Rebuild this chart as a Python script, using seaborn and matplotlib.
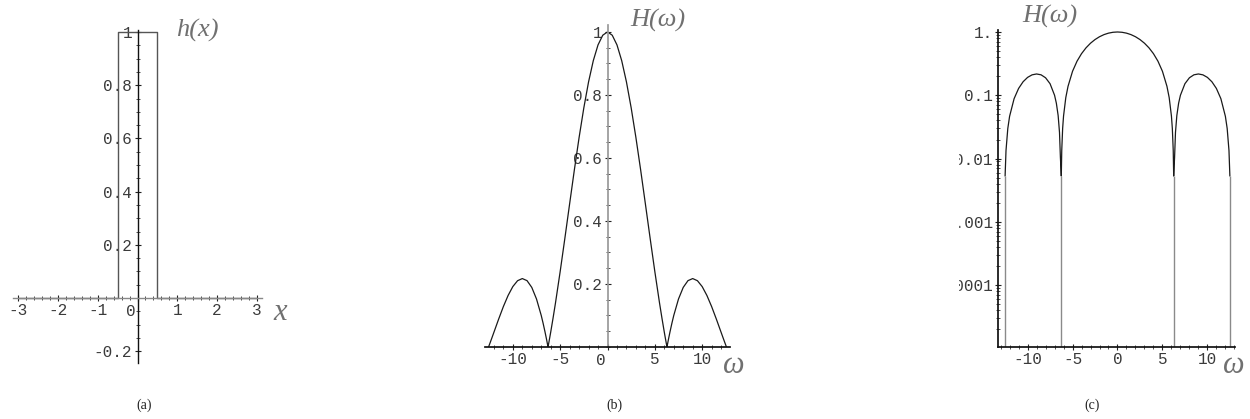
import numpy as np
import matplotlib
matplotlib.use("Agg")
import matplotlib.pyplot as plt
import matplotlib.ticker as mticker
from matplotlib.patches import Rectangle
import seaborn as sns

# box function h(x)
box_x = [-3, -0.5, -0.5, 0.5, 0.5, 3]
box_y = [0, 0, 1, 1, 0, 0]

# |H(omega)| (b) and (c)
omega = [-12.566, -12.5, -12.4, -12.2, -12.0, -11.5, -11.0, -10.5, -10.0, -9.5,
         -9.0, -8.5, -8.0, -7.5, -7.0, -6.8, -6.6, -6.45, -6.35, -6.283,
         -6.25, -6.2, -6.1, -6.0, -5.75, -5.5, -5.0, -4.5, -4.0, -3.5,
         -3.0, -2.5, -2.0, -1.5, -1.0, -0.5, 0.0,
         0.5, 1.0, 1.5, 2.0, 2.5, 3.0, 3.5, 4.0, 4.5, 5.0,
         5.5, 5.75, 6.0, 6.1, 6.2, 6.25, 6.283, 6.35, 6.45, 6.6,
         6.8, 7.0, 7.5, 8.0, 8.5, 9.0, 9.5, 10.0, 10.5, 11.0,
         11.5, 12.0, 12.2, 12.4, 12.5, 12.566]
H = [0, 0.0053, 0.0134, 0.0299, 0.0466, 0.0884, 0.1283, 0.1636, 0.1918, 0.2104,
     0.2172, 0.2106, 0.1892, 0.1524, 0.1002, 0.0751, 0.0478, 0.0259, 0.0105, 0,
     0.0053, 0.0134, 0.0300, 0.0470, 0.0919, 0.1388, 0.2394, 0.3458, 0.4546, 0.5623,
     0.6650, 0.7592, 0.8415, 0.9089, 0.9589, 0.9896, 1.0,
     0.9896, 0.9589, 0.9089, 0.8415, 0.7592, 0.6650, 0.5623, 0.4546, 0.3458, 0.2394,
     0.1388, 0.0919, 0.0470, 0.0300, 0.0134, 0.0053, 0, 0.0105, 0.0259, 0.0478,
     0.0751, 0.1002, 0.1524, 0.1892, 0.2106, 0.2172, 0.2104, 0.1918, 0.1636, 0.1283,
     0.0884, 0.0466, 0.0299, 0.0134, 0.0053, 0]

a_yticks = [-0.2, 0.2, 0.4, 0.6, 0.8, 1]
a_ylabels = ["-0.2", "0.2", "0.4", "0.6", "0.8", "1"]
a_xticks = [-3, -2, -1, 0, 1, 2, 3]
b_xticks = [-10, -5, 0, 5, 10]
b_yticks = [0.2, 0.4, 0.6, 0.8, 1]
b_ylabels = ["0.2", "0.4", "0.6", "0.8", "1"]
c_yticks = [1, 0.1, 0.01, 0.001, 0.0001]
c_ylabels = ["1.", "0.1", "0.01", "0.001", "0.0001"]
captions = ["(a)", "(b)", "(c)"]

sns.set_theme(style="ticks")
plt.rcParams["font.family"] = ["Liberation Mono", "DejaVu Sans"]

W, Hpx = 1250, 419
fig = plt.figure(figsize=(W / 100, Hpx / 100), dpi=100)
TICK_FS = 11.5
TICK_COL = "#3a3a3a"


def box(l, t, r, b):
    return [l / W, 1 - b / Hpx, (r - l) / W, (b - t) / Hpx]


def style_ticks(ax):
    ax.tick_params(which="both", bottom=True, left=True, top=False, right=False)
    ax.tick_params(which="major", direction="inout", length=4.5, width=0.8,
                   labelsize=TICK_FS, labelcolor=TICK_COL, color="#222222", pad=1.5)
    ax.tick_params(which="minor", direction="inout", length=2.2, width=0.6, color="#333333")


def zero_label(ax):
    # the "0" on crossing axes sits just left of the vertical axis
    ax.annotate("0", xy=(0, 0), xycoords="data", xytext=(-1, -4.5), textcoords="offset points",
                ha="right", va="top", fontsize=TICK_FS, color=TICK_COL)


def xlabels(ticks):
    return ["" if t == 0 else str(t) for t in ticks]


# ---- (a) ----
ax = fig.add_axes(box(13, 30, 262, 363))
sns.lineplot(x=box_x, y=box_y, ax=ax, sort=False, estimator=None, color="#555555", lw=1)
ax.set_xlim(-3.13, 3.13)
ax.set_ylim(-0.244, 1.0075)
for s in ["top", "right"]:
    ax.spines[s].set_visible(False)
ax.spines["left"].set_position(("data", 0))
ax.spines["bottom"].set_position(("data", 0))
ax.spines["left"].set_color("#111111")
ax.spines["bottom"].set_color("#888888")
ax.spines["left"].set_linewidth(1)
ax.spines["bottom"].set_linewidth(1)
ax.set_xticks(a_xticks)
ax.set_xticklabels(xlabels(a_xticks))
ax.set_yticks(a_yticks)
ax.set_yticklabels(a_ylabels)
ax.xaxis.set_minor_locator(mticker.MultipleLocator(0.2))
ax.yaxis.set_minor_locator(mticker.MultipleLocator(0.05))
style_ticks(ax)
zero_label(ax)
ax.set_xlabel("")
ax.set_ylabel("")
ax.patch.set_alpha(0)

# ---- (b) ----
ax = fig.add_axes(box(485, 25, 730, 347))
sns.lineplot(x=omega, y=H, ax=ax, sort=False, estimator=None, color="#1a1a1a", lw=0.9)
ax.set_xlim(-12.94, 12.94)
ax.set_ylim(0, 1.022)
for s in ["top", "right"]:
    ax.spines[s].set_visible(False)
ax.spines["left"].set_position(("data", 0))
ax.spines["left"].set_color("#999999")
ax.spines["bottom"].set_color("#111111")
ax.set_xticks(b_xticks)
ax.set_xticklabels(xlabels(b_xticks))
ax.set_yticks(b_yticks)
ax.set_yticklabels(b_ylabels)
ax.xaxis.set_minor_locator(mticker.MultipleLocator(1))
ax.yaxis.set_minor_locator(mticker.MultipleLocator(0.05))
style_ticks(ax)
zero_label(ax)
ax.set_xlabel("")
ax.set_ylabel("")
ax.patch.set_alpha(0)

# ---- (c) ----
ax = fig.add_axes(box(998, 30, 1235, 347))
H_log = [h if h > 0 else np.nan for h in H]
sns.lineplot(x=omega, y=H_log, ax=ax, sort=False, estimator=None, color="#1a1a1a", lw=0.9)
ax.set_yscale("log")
ax.set_xlim(-13.29, 13.07)
ax.set_ylim(1.057e-5, 1.075)
# zeros of H fall off the log axis: drawn as vertical drops
zeros = [w for w, h in zip(omega, H) if h == 0]
for w in zeros:
    i = omega.index(w)
    near = [H[j] for j in (i - 1, i + 1) if 0 <= j < len(H)]
    ax.vlines(w, 1e-6, min(near), color="#8a8a8a", lw=1)
for s in ["top", "right"]:
    ax.spines[s].set_visible(False)
ax.spines["left"].set_color("#111111")
ax.spines["bottom"].set_color("#111111")
ax.set_xticks(b_xticks)
ax.set_xticklabels([str(t) for t in b_xticks])
ax.set_yticks(c_yticks)
ax.set_yticklabels(c_ylabels)
ax.xaxis.set_minor_locator(mticker.MultipleLocator(1))
ax.yaxis.set_minor_locator(mticker.LogLocator(base=10, subs=np.arange(2, 10)))
ax.yaxis.set_minor_formatter(mticker.NullFormatter())
style_ticks(ax)
ax.set_xlabel("")
ax.set_ylabel("")
ax.patch.set_alpha(0)

# the reference cuts off the left side of panel (c)'s labels
fig.add_artist(Rectangle((900 / W, 1 - 380 / Hpx), 58 / W, 380 / Hpx,
                         transform=fig.transFigure, color="white", zorder=10))

# axis names
serif = dict(family=["Liberation Serif", "DejaVu Serif"], style="italic", color="#707070",
             ha="center", va="center")
fig.text(197 / W, 1 - 30 / Hpx, "h(x)", fontsize=19, **serif)
fig.text(280 / W, 1 - 312 / Hpx, "x", fontsize=22, **serif)
fig.text(658 / W, 1 - 20 / Hpx, "H(ω)", fontsize=19, **serif)
fig.text(734 / W, 1 - 365 / Hpx, "ω", fontsize=22, **serif)
fig.text(1050 / W, 1 - 16 / Hpx, "H(ω)", fontsize=19, **serif)
fig.text(1234 / W, 1 - 365 / Hpx, "ω", fontsize=22, **serif)

for cx, lab in zip([144, 614, 1092], captions):
    fig.text(cx / W, 1 - 405 / Hpx, lab, fontsize=10, ha="center", va="center",
             family=["Liberation Serif", "DejaVu Serif"], color="#222222")

fig.savefig("out.png", dpi=100, facecolor="white")
